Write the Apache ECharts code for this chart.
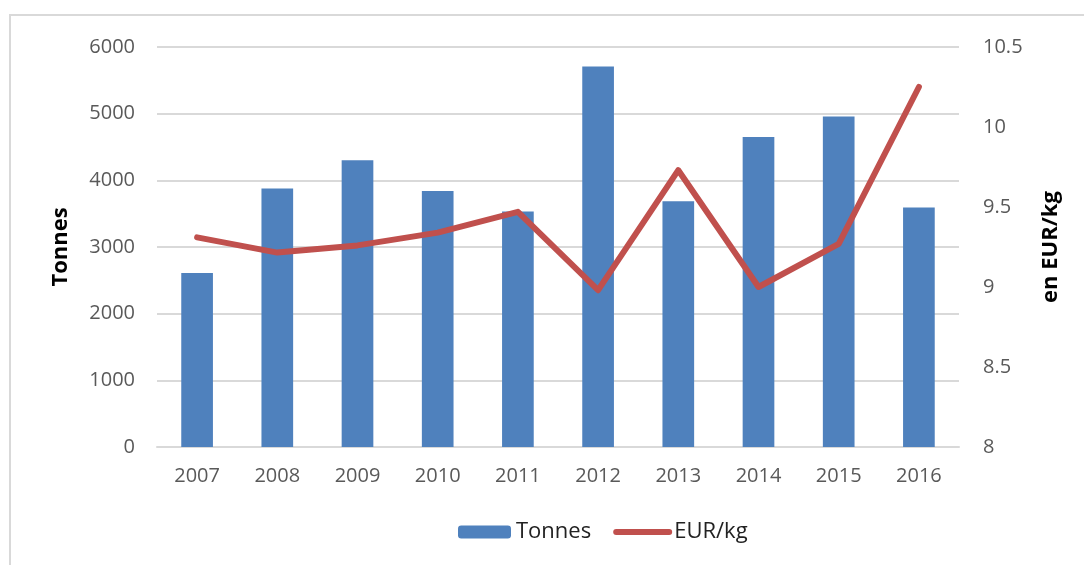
<!DOCTYPE html>
<html>
<head>
<meta charset="utf-8">
<script src="https://cdn.jsdelivr.net/npm/echarts@6/dist/echarts.min.js"></script>
<style>
  html, body { margin: 0; padding: 0; background: #fff; }
  #chart { width: 1084px; height: 565px; }
</style>
</head>
<body>
<div id="chart"></div>
<script>
// data
const years = ['2007', '2008', '2009', '2010', '2011', '2012', '2013', '2014', '2015', '2016']
const tonnes = [2610, 3876, 4300, 3840, 3531, 5706, 3685, 4650, 4956, 3591]
const eurKg = [9.31, 9.215, 9.26, 9.34, 9.47, 8.98, 9.73, 9.0, 9.27, 10.25]

const font = "'Open Sans', sans-serif"
const gridColor = '#d9d9d9'

let chart = echarts.init(document.querySelector('#chart'))

let option = {
    backgroundColor: '#fff',
    animation: false,
    graphic: [{
        type: 'rect',
        shape: { x: 10, y: 15, width: 1090, height: 570 },
        style: { fill: 'none', stroke: '#d9d9d9', lineWidth: 2 }
    }],
    grid: {
        left: 157,
        right: 125,
        top: 47,
        bottom: 118
    },
    legend: {
        left: 458,
        top: 521,
        padding: 0,
        itemWidth: 53,
        itemHeight: 13,
        itemGap: 22,
        textStyle: { fontFamily: font, fontSize: 22, color: '#222' },
        data: [
            { name: 'Tonnes' },
            { name: 'EUR/kg', itemStyle: { opacity: 0 }, lineStyle: { width: 6, cap: 'round' } }
        ]
    },
    xAxis: {
        type: 'category',
        data: years,
        axisLine: { lineStyle: { color: gridColor, width: 2 } },
        axisTick: { show: false },
        axisLabel: { margin: 19, fontFamily: font, fontSize: 20, color: '#595959' }
    },
    yAxis: [{
        type: 'value',
        min: 0,
        max: 6000,
        interval: 1000,
        name: 'Tonnes',
        nameLocation: 'middle',
        nameRotate: 90,
        nameGap: 85,
        nameTextStyle: { fontFamily: font, fontSize: 22, fontWeight: 'bold', color: '#000' },
        axisLine: { show: false },
        axisTick: { show: false },
        splitLine: { lineStyle: { color: gridColor, width: 2 } },
        axisLabel: { margin: 22, fontFamily: font, fontSize: 20, color: '#595959', formatter: (v) => String(v) }
    }, {
        type: 'value',
        min: 8,
        max: 10.5,
        interval: 0.5,
        position: 'right',
        name: 'en EUR/kg',
        nameLocation: 'middle',
        nameRotate: 90,
        nameGap: 81,
        nameTextStyle: { fontFamily: font, fontSize: 22, fontWeight: 'bold', color: '#000' },
        axisLine: { show: false },
        axisTick: { show: false },
        splitLine: { show: false },
        axisLabel: { margin: 24, fontFamily: font, fontSize: 20, color: '#595959' }
    }],
    series: [{
        name: 'Tonnes',
        type: 'bar',
        data: tonnes,
        barWidth: '39.5%',
        itemStyle: { color: '#4F81BD' }
    }, {
        name: 'EUR/kg',
        type: 'line',
        yAxisIndex: 1,
        data: eurKg,
        symbol: 'none',
        lineStyle: { color: '#C0504D', width: 6, cap: 'round', join: 'round' },
        itemStyle: { color: '#C0504D' }
    }]
}

chart.setOption(option)
</script>
</body>
</html>
